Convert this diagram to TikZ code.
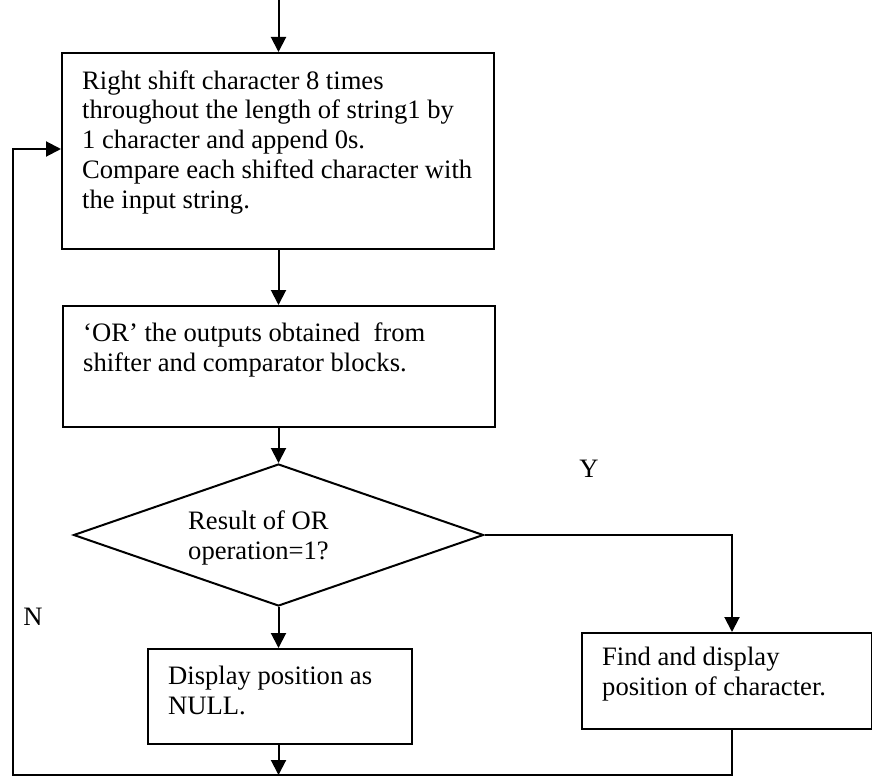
\documentclass[tikz,border=0pt]{standalone}
\usepackage{fontspec}
\setmainfont{Liberation Serif}
\usetikzlibrary{arrows.meta,shapes.geometric}
\begin{document}
\begin{tikzpicture}[x=1pt,y=-1pt,
  flow/.style={line width=2pt,line join=miter},
  arr/.style={flow,-{Triangle[length=15pt,width=15pt]}},
  block/.style={draw,line width=2pt,inner sep=0pt,anchor=north west},
  decision/.style={draw,diamond,line width=2pt,inner sep=0pt},
  % placed by the baseline of the last line
  txt/.style={inner sep=0pt,anchor=base west,align=left,font=\fontsize{26.6}{29.7}\selectfont},
  branchlabel/.style={inner sep=0pt,font=\fontsize{26.6}{30}\selectfont}]
\useasboundingbox (0,0) rectangle (872,776);

% process blocks
\node[block,minimum width=432pt,minimum height=196pt] (b1) at (61,52) {};
\node[block,minimum width=432pt,minimum height=121pt] (b2) at (62,305) {};
\node[decision,minimum width=410pt,minimum height=142pt] (dia) at (278.5,535) {};
\node[block,minimum width=264pt,minimum height=95pt] (b4) at (147,648) {};
\node[block,minimum width=290pt,minimum height=96pt] (b3) at (581,632) {};

% block texts
\node[txt] (t1) at (82,208) {Right shift character 8 times\\throughout the length of string1 by\\1 character and append 0s.\\Compare each shifted character with\\the input string.};
\node[txt] (t2) at (83,371) {‘OR’ the outputs obtained\ \ from\\shifter and comparator blocks.};
\node[txt] (td) at (188,559) {Result of OR\\operation=1?};
\node[txt] (t4) at (168,714) {Display position as\\NULL.};
\node[txt] (t3) at (602,695) {Find and display\\position of character.};

% branch labels
\node[branchlabel] (ly) at (589,469) {Y};
\node[branchlabel] (ln) at (33,617) {N};

% connector end points
\coordinate (start) at (278.5,0);
\coordinate (ycorner) at (732,535);
\coordinate (bot) at (278.5,775);
\coordinate (lc) at (13,775);
\coordinate (lt) at (13,149);

% connectors
\draw[arr] (start) -- (start |- b1.north);
\draw[arr] (start |- b1.south) -- (start |- b2.north);
\draw[arr] (start |- b2.south) -- (dia.north);
\draw[arr] (dia.east) -- (ycorner) -- (ycorner |- b3.north);
\draw[arr] (dia.south) -- (dia.south |- b4.north);
\draw[arr] (dia.south |- b4.south) -- (bot);
\draw[arr] (ycorner |- b3.south) -- (ycorner |- lc) -- (lc) -- (lt) -- (lt -| b1.west);
\end{tikzpicture}
\end{document}
